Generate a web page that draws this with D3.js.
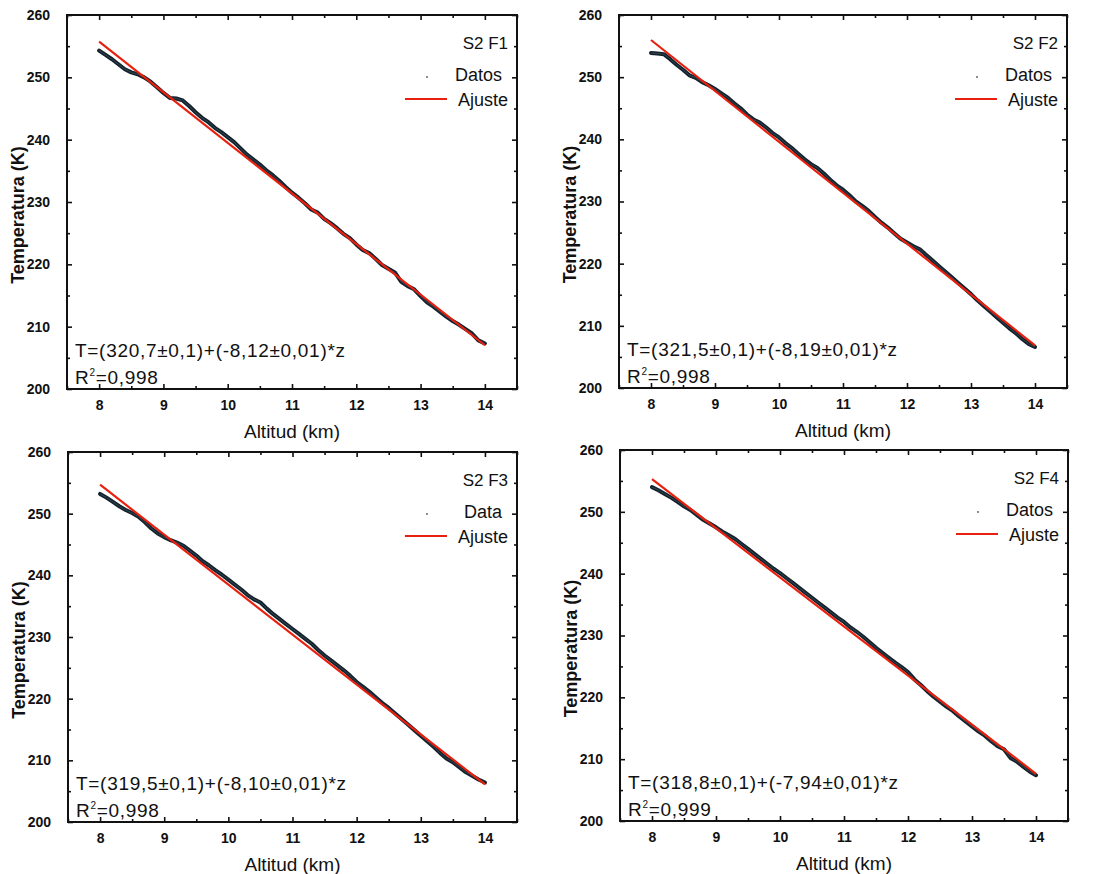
<!DOCTYPE html>
<html lang="es">
<head>
<meta charset="utf-8" />
<title>Temperatura vs Altitud</title>
<style type="text/css">
  body { margin: 0; background: #fff; }
  svg text { font-family: "Liberation Sans", Arial, sans-serif; fill: #111; }
</style>
</head>
<body>
<div id="graph"></div>
<script src="https://cdn.jsdelivr.net/npm/d3@7/dist/d3.min.js"></script>
<script type="text/javascript">
// altitude grid shared by the four soundings (km)
var altitudes = [8.0,8.1,8.2,8.3,8.4,8.5,8.6,8.7,8.8,8.9,9.0,9.1,9.2,9.3,9.4,9.5,9.6,9.7,9.8,9.9,
  10.0,10.1,10.2,10.3,10.4,10.5,10.6,10.7,10.8,10.9,11.0,11.1,11.2,11.3,11.4,11.5,11.6,11.7,11.8,11.9,
  12.0,12.1,12.2,12.3,12.4,12.5,12.6,12.7,12.8,12.9,13.0,13.1,13.2,13.3,13.4,13.5,13.6,13.7,13.8,13.9,14.0];

var tempsF1 = [254.3,253.6,252.9,252.1,251.3,250.8,250.5,250.0,249.3,248.4,247.5,246.7,246.6,246.3,245.4,244.4,243.5,242.8,241.9,241.2,
  240.4,239.6,238.6,237.6,236.8,236.0,235.1,234.3,233.4,232.4,231.5,230.7,229.8,228.8,228.3,227.3,226.6,225.8,224.9,224.2,
  223.2,222.3,221.8,220.9,219.9,219.3,218.7,217.2,216.5,216.0,214.9,213.9,213.2,212.4,211.6,210.9,210.3,209.6,208.9,207.8,207.3];
var tempsF2 = [253.9,253.8,253.7,252.9,252.0,251.2,250.3,249.9,249.2,248.7,248.1,247.4,246.7,245.8,245.0,244.0,243.2,242.7,241.9,241.0,
  240.3,239.4,238.6,237.7,236.8,236.0,235.4,234.5,233.5,232.6,231.9,231.0,230.0,229.3,228.5,227.5,226.6,225.8,224.9,224.0,
  223.4,222.8,222.3,221.4,220.5,219.6,218.7,217.8,216.9,216.0,215.1,214.1,213.2,212.3,211.4,210.5,209.6,208.8,207.9,207.1,206.6];
var tempsF3 = [253.2,252.6,251.9,251.2,250.6,250.1,249.5,248.6,247.6,246.8,246.2,245.7,245.3,244.8,244.0,243.2,242.3,241.6,240.8,240.1,
  239.3,238.5,237.7,236.8,236.1,235.6,234.6,233.7,232.9,232.1,231.3,230.5,229.7,228.9,227.9,227.0,226.2,225.4,224.6,223.7,
  222.7,221.9,221.1,220.2,219.3,218.5,217.6,216.7,215.8,214.9,214.0,213.1,212.2,211.2,210.3,209.7,208.9,208.1,207.5,206.9,206.4];
var tempsF4 = [254.0,253.5,252.9,252.3,251.6,250.9,250.3,249.5,248.7,248.1,247.5,246.8,246.2,245.6,244.8,244.0,243.2,242.4,241.6,240.8,
  240.1,239.3,238.5,237.7,236.9,236.1,235.3,234.5,233.7,232.9,232.2,231.3,230.6,229.8,228.9,228.0,227.2,226.4,225.6,224.9,
  224.1,222.9,222.0,221.0,220.1,219.3,218.5,217.8,216.9,216.1,215.3,214.5,213.8,212.9,212.1,211.6,210.2,209.6,208.8,208.0,207.4];

var panelNames = ["S2 F1", "S2 F2", "S2 F3", "S2 F4"];
var dataLabels = ["Datos", "Datos", "Data", "Datos"];
var fitLabel = "Ajuste";
var fitIntercepts = [320.7, 321.5, 319.5, 318.8];
var fitSlopes = [-8.12, -8.19, -8.10, -7.94];
var equations = ["T=(320,7\u00b10,1)+(-8,12\u00b10,01)*z", "T=(321,5\u00b10,1)+(-8,19\u00b10,01)*z",
                 "T=(319,5\u00b10,1)+(-8,10\u00b10,01)*z", "T=(318,8\u00b10,1)+(-7,94\u00b10,01)*z"];
var r2Values = ["0,998", "0,998", "0,998", "0,999"];
var xTicks = [8, 9, 10, 11, 12, 13, 14];
var yTicks = [200, 210, 220, 230, 240, 250, 260];

var allTemps = [tempsF1, tempsF2, tempsF3, tempsF4];

// plot boxes of the four panels
var boxes = [
  { x: 67, y: 15, w: 450, h: 374 },
  { x: 619, y: 15, w: 448, h: 373 },
  { x: 68, y: 452, w: 449, h: 370 },
  { x: 620, y: 450, w: 448, h: 371 }
];

var svg = d3.select("#graph").append("svg")
  .attr("width", 1098)
  .attr("height", 874);

boxes.forEach(function(b, i) {
  var g = svg.append("g").attr("transform", "translate(" + b.x + "," + b.y + ")");

  var x = d3.scaleLinear().domain([7.5, 14.5]).range([0, b.w]);
  var y = d3.scaleLinear().domain([200, 260]).range([b.h, 0]);

  var minorX = [7.5, 8.5, 9.5, 10.5, 11.5, 12.5, 13.5, 14.5];
  var minorY = [205, 215, 225, 235, 245, 255];

  // major + minor ticks, all pointing inward
  function styleAxis(sel) {
    sel.select(".domain").remove();
    sel.selectAll("line").attr("stroke", "#111").attr("stroke-width", 1.6);
  }
  g.append("g").attr("transform", "translate(0," + b.h + ")")
    .call(d3.axisBottom(x).tickValues(xTicks).tickSize(-5).tickPadding(11).tickFormat(d3.format("d")))
    .call(styleAxis)
    .selectAll("text").style("font-size", "14px").style("font-weight", "bold").attr("fill", "#222");
  g.append("g").attr("transform", "translate(0," + b.h + ")")
    .call(d3.axisBottom(x).tickValues(minorX).tickSize(-3).tickFormat(""))
    .call(styleAxis);
  g.append("g")
    .call(d3.axisTop(x).tickValues(xTicks).tickSize(-5).tickFormat(""))
    .call(styleAxis);
  g.append("g")
    .call(d3.axisTop(x).tickValues(minorX).tickSize(-3).tickFormat(""))
    .call(styleAxis);
  g.append("g")
    .call(d3.axisLeft(y).tickValues(yTicks).tickSize(-5).tickPadding(17).tickFormat(d3.format("d")))
    .call(styleAxis)
    .selectAll("text").style("font-size", "14px").style("font-weight", "bold").attr("fill", "#222");
  g.append("g")
    .call(d3.axisLeft(y).tickValues(minorY).tickSize(-3).tickFormat(""))
    .call(styleAxis);
  g.append("g").attr("transform", "translate(" + b.w + ",0)")
    .call(d3.axisRight(y).tickValues(yTicks).tickSize(-5).tickFormat(""))
    .call(styleAxis);
  g.append("g").attr("transform", "translate(" + b.w + ",0)")
    .call(d3.axisRight(y).tickValues(minorY).tickSize(-3).tickFormat(""))
    .call(styleAxis);

  g.append("rect")
    .attr("width", b.w).attr("height", b.h)
    .attr("fill", "none").attr("stroke", "#111").attr("stroke-width", 2);

  // measured profile
  var pts = altitudes.map(function(z, k) { return [z, allTemps[i][k]]; });
  var line = d3.line().x(function(d) { return x(d[0]); }).y(function(d) { return y(d[1]); });
  g.append("path").datum(pts)
    .attr("d", line)
    .attr("fill", "none")
    .attr("stroke", "#15202b")
    .attr("stroke-width", 4)
    .attr("stroke-linejoin", "round")
    .attr("stroke-linecap", "round");
  g.append("path").datum(pts)
    .attr("d", line)
    .attr("fill", "none")
    .attr("stroke", "#2a4a55")
    .attr("stroke-width", 1);

  // linear fit
  var fitPts = [8, 14].map(function(z) { return [z, fitIntercepts[i] + fitSlopes[i] * z]; });
  g.append("path").datum(fitPts)
    .attr("d", line)
    .attr("fill", "none")
    .attr("stroke", "#e8200f")
    .attr("stroke-width", 2.2);

  // panel name and legend
  g.append("text")
    .attr("x", b.w - 9).attr("y", 34)
    .attr("text-anchor", "end")
    .style("font-size", "17px")
    .text(panelNames[i]);
  g.append("text")
    .attr("x", b.w - 15).attr("y", 66)
    .attr("text-anchor", "end")
    .style("font-size", "18px")
    .text(dataLabels[i]);
  g.append("circle")
    .attr("cx", b.w - 90).attr("cy", 62).attr("r", 0.9)
    .attr("fill", "#556");
  g.append("line")
    .attr("x1", b.w - 112).attr("x2", b.w - 70)
    .attr("y1", 84).attr("y2", 84)
    .attr("stroke", "#e8200f").attr("stroke-width", 2.2);
  g.append("text")
    .attr("x", b.w - 9).attr("y", 91)
    .attr("text-anchor", "end")
    .style("font-size", "18px")
    .text(fitLabel);

  // fit equation
  g.append("text")
    .attr("x", 8).attr("y", b.h - 32)
    .style("font-size", "19px")
    .style("letter-spacing", "0.7px")
    .text(equations[i]);
  var r2 = g.append("text")
    .attr("x", 8).attr("y", b.h - 5)
    .style("font-size", "19px")
    .style("letter-spacing", "0.7px");
  r2.append("tspan").text("R");
  r2.append("tspan").attr("dy", -8).style("font-size", "10px").text("2");
  r2.append("tspan").attr("dy", 8).text("=" + r2Values[i]);

  // axis titles
  g.append("text")
    .attr("x", b.w / 2).attr("y", b.h + 49)
    .attr("text-anchor", "middle")
    .style("font-size", "19px")
    .text("Altitud (km)");
  g.append("text")
    .attr("transform", "translate(" + (-43) + "," + (b.h / 2 + 13) + ") rotate(-90)")
    .attr("text-anchor", "middle")
    .style("font-size", "18px")
    .style("font-weight", "bold")
    .text("Temperatura (K)");
});
</script>
</body>
</html>
